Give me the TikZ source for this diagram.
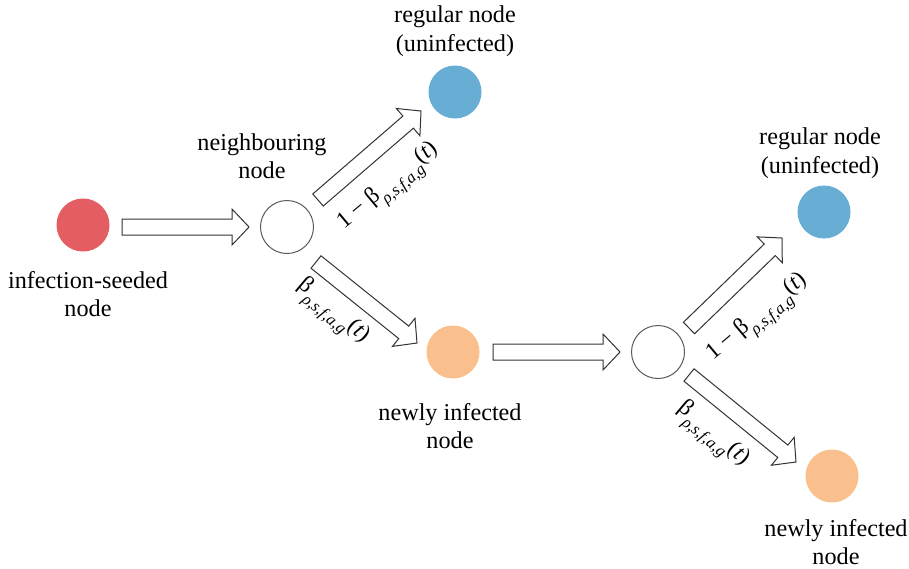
\documentclass[tikz,border=0pt]{standalone}
\usepackage{fontspec}
\setmainfont{Liberation Serif}
\usetikzlibrary{calc}
\definecolor{seedred}{HTML}{E35D63}
\definecolor{regblue}{HTML}{68ADD3}
\definecolor{newor}{HTML}{F9BF8D}
\definecolor{ringgray}{HTML}{5A5A5A}
\newcommand\betasub{β\raisebox{-0.36em}{\fontsize{16.5}{16.5}\selectfont\itshape ρ,s,f,a,g}}
\begin{document}
\begin{tikzpicture}[x=1pt,y=-1pt,
  dot/.style={circle, minimum size=53pt, inner sep=0pt, draw=none},
  opendot/.style={circle, minimum size=53pt, inner sep=0pt, draw=ringgray, line width=1pt, fill=white},
  lbl/.style={font=\fontsize{24.2}{28.5}\selectfont, align=center, inner sep=0pt},
  prob/.style={font=\fontsize{23.5}{26}\selectfont, inner sep=0pt},
  block/.style={draw=black!80, line width=1pt, fill=white, line join=miter,
    to path={
      let \p1=($(\tikztotarget)!17pt!(\tikztostart)$) in
      ($(\tikztostart)!8pt!90:(\tikztotarget)$) --
      ($(\p1)!8pt!90:(\tikztotarget)$) --
      ($(\p1)!18pt!90:(\tikztotarget)$) --
      (\tikztotarget) --
      ($(\p1)!18pt!-90:(\tikztotarget)$) --
      ($(\p1)!8pt!-90:(\tikztotarget)$) --
      ($(\tikztostart)!8pt!-90:(\tikztotarget)$) -- cycle}}
]
\useasboundingbox (0,0) rectangle (909,568);

% circles
\node[dot, fill=seedred] (seed) at (83,225) {};
\node[opendot] (nb1) at (287,227) {};
\node[dot, fill=regblue] (reg1) at (455,92) {};
\node[dot, fill=newor] (new1) at (453,352) {};
\node[opendot] (nb2) at (658,352) {};
\node[dot, fill=regblue] (reg2) at (824,212) {};
\node[dot, fill=newor] (new2) at (832,476) {};

% captions
\node[lbl] (tseed) at (88,294) {infection-seeded\\node};
\node[lbl] (tnb1) at (262,156) {neighbouring\\node};
\node[lbl] (treg1) at (455,31) {regular node\\(uninfected)};
\node[lbl] (tnew1) at (450,426) {newly infected\\node};
\node[lbl] (treg2) at (820,153) {regular node\\(uninfected)};
\node[lbl] (tnew2) at (836,542) {newly infected\\node};

% arrow end points
\coordinate (a1s) at (122,227);  \coordinate (a1e) at (249,227);
\coordinate (a2s) at (318,200);  \coordinate (a2e) at (421,111);
\coordinate (a3s) at (316,262);  \coordinate (a3e) at (417,343);
\coordinate (a4s) at (493,352);  \coordinate (a4e) at (620,352);
\coordinate (a5s) at (689,328);  \coordinate (a5e) at (782,238);
\coordinate (a6s) at (689,375);  \coordinate (a6e) at (796,462);

\draw[block] (a1s) to (a1e);
\draw[block] (a2s) to (a2e);
\draw[block] (a3s) to (a3e);
\draw[block] (a4s) to (a4e);
\draw[block] (a5s) to (a5e);
\draw[block] (a6s) to (a6e);

% transition probabilities
\node[prob, rotate=40] (p1) at (390,188) {1 − \betasub(\textit{t})};
\node[prob, rotate=-40] (p2) at (332,313) {\betasub(\textit{t})};
\node[prob, rotate=40] (p3) at (759,319) {1 − \betasub(\textit{t})};
\node[prob, rotate=-40] (p4) at (712,436) {\betasub(\textit{t})};
\end{tikzpicture}
\end{document}
